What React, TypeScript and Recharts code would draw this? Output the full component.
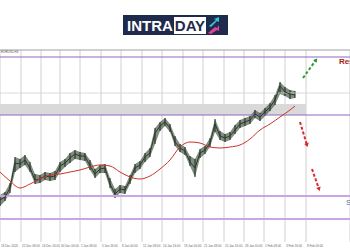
import {
  Area,
  Bar,
  CartesianGrid,
  ComposedChart,
  Line,
  ReferenceArea,
  ReferenceLine,
  XAxis,
  YAxis,
} from "recharts";

// H4 bars, sampled every 5 bars
const bars = [0, 5, 10, 15, 20, 25, 30, 35, 40, 45, 50, 55, 60, 65, 70, 75, 80, 85, 90, 95, 100, 105, 110, 115, 120, 125, 130, 135, 140, 145, 150, 155, 160, 165, 170, 175, 180, 185, 190, 195, 200, 205, 210, 215, 220, 225, 230, 235, 240, 245, 250, 255, 260, 265, 270, 275, 280, 285, 290, 295];
const close = [1.172, 1.1735, 1.178, 1.1905, 1.19, 1.192, 1.188, 1.182, 1.1825, 1.184, 1.1835, 1.184, 1.189, 1.1905, 1.193, 1.195, 1.194, 1.194, 1.189, 1.185, 1.1875, 1.188, 1.18, 1.175, 1.1775, 1.177, 1.182, 1.188, 1.1895, 1.1935, 1.1955, 1.2055, 1.209, 1.211, 1.208, 1.201, 1.198, 1.1965, 1.191, 1.188, 1.1955, 1.197, 1.2005, 1.21, 1.204, 1.203, 1.204, 1.207, 1.21, 1.211, 1.212, 1.215, 1.2135, 1.216, 1.2185, 1.222, 1.229, 1.226, 1.225, 1.2245];
const high = [1.1745, 1.176, 1.1805, 1.1935, 1.1925, 1.1945, 1.191, 1.185, 1.1845, 1.186, 1.1855, 1.1865, 1.191, 1.1925, 1.1955, 1.197, 1.196, 1.1955, 1.192, 1.1875, 1.1895, 1.19, 1.183, 1.1775, 1.1795, 1.179, 1.1845, 1.19, 1.1915, 1.1955, 1.198, 1.208, 1.211, 1.213, 1.21, 1.204, 1.2, 1.1985, 1.194, 1.1925, 1.1975, 1.199, 1.203, 1.2125, 1.2065, 1.205, 1.206, 1.2095, 1.212, 1.213, 1.214, 1.217, 1.2155, 1.218, 1.2205, 1.2245, 1.231, 1.2285, 1.227, 1.2265];
const low = [1.169, 1.1715, 1.1755, 1.186, 1.188, 1.1895, 1.186, 1.18, 1.1805, 1.182, 1.1815, 1.182, 1.186, 1.1885, 1.1905, 1.1925, 1.192, 1.1915, 1.187, 1.183, 1.1855, 1.1855, 1.178, 1.173, 1.1755, 1.175, 1.18, 1.1855, 1.1875, 1.191, 1.1935, 1.2, 1.2065, 1.209, 1.206, 1.199, 1.196, 1.1945, 1.189, 1.1835, 1.193, 1.195, 1.1985, 1.206, 1.202, 1.201, 1.202, 1.205, 1.208, 1.209, 1.21, 1.213, 1.2115, 1.214, 1.2165, 1.2195, 1.225, 1.224, 1.2225, 1.223];

// moving average
const maBars = [0, 10, 20, 30, 40, 50, 60, 70, 80, 90, 100, 110, 120, 130, 140, 150, 160, 170, 180, 190, 200, 210, 220, 230, 240, 250, 260, 270, 280, 290, 295];
const ma = [1.186, 1.1815, 1.178, 1.18, 1.1825, 1.1845, 1.185, 1.186, 1.187, 1.1885, 1.1895, 1.189, 1.186, 1.1835, 1.1825, 1.184, 1.1875, 1.192, 1.1985, 1.201, 1.2005, 1.1985, 1.198, 1.1985, 1.1995, 1.2025, 1.207, 1.21, 1.2135, 1.217, 1.219];

// levels
const topBorder = 1.247;
const resistance = [1.2435, 1.2145];
const support = [1.174, 1.1625];
const zone = [1.2145, 1.22];
const gridLevel = 1.2255;

// scenario arrows
const upArrow = [{ t: 303, v: 1.233 }, { t: 316, v: 1.242 }];
const downArrow1 = [{ t: 300, v: 1.211 }, { t: 307, v: 1.1995 }];
const downArrow2 = [{ t: 312, v: 1.1875 }, { t: 319, v: 1.1775 }];

const tickBars = [0, 21, 41, 60, 80, 101, 121, 142, 162, 183, 203, 224, 244, 264, 285, 306];
const tickLabels = ["18 Dec 2020", "22 Dec 08:00", "24 Dec 16:00", "30 Dec 00:00", "1 Jan 08:00", "5 Jan 16:00", "8 Jan 00:00", "12 Jan 08:00", "14 Jan 16:00", "19 Jan 00:00", "21 Jan 08:00", "25 Jan 16:00", "28 Jan 00:00", "1 Feb 08:00", "3 Feb 16:00", "8 Feb 00:00"];

const data = bars.map((t, i) => ({ t, close: close[i], range: [low[i], high[i]] }));
const maData = maBars.map((t, i) => ({ t, v: ma[i] }));

const arrowHead = (color: string) => (p: any) => {
  const pts = p.points || [];
  if (p.index !== pts.length - 1 || p.index < 1) return <g key={p.key} />;
  const prev = pts[p.index - 1];
  const a = Math.atan2(p.cy - prev.y, p.cx - prev.x);
  const s = 4.5;
  const tip = [p.cx + Math.cos(a) * 2, p.cy + Math.sin(a) * 2];
  const l = [tip[0] - s * Math.cos(a - 0.55), tip[1] - s * Math.sin(a - 0.55)];
  const r = [tip[0] - s * Math.cos(a + 0.55), tip[1] - s * Math.sin(a + 0.55)];
  return <polygon key={p.key} points={`${tip[0]},${tip[1]} ${l[0]},${l[1]} ${r[0]},${r[1]}`} fill={color} />;
};

const DateTick = (props: any) => {
  const i = tickBars.indexOf(props.payload.value);
  return (
    <text x={props.x + 1} y={props.y + 4.5} fontSize={3} fill="#666" fontFamily="Liberation Sans">
      {tickLabels[i]}
    </text>
  );
};

function Logo() {
  return (
    <div
      style={{
        position: "absolute",
        left: 123,
        top: 15,
        width: 105,
        height: 20,
        background: "#1f2b4d",
        display: "flex",
        alignItems: "center",
        fontFamily: "Liberation Sans",
        fontWeight: 700,
        fontSize: 15,
        lineHeight: "15px",
      }}
    >
      <span style={{ color: "#fff", marginLeft: 4 }}>INTRA</span>
      <span style={{ background: "#fff", color: "#1f2b4d", marginLeft: 1, padding: "1px 1px 0 1px", height: 16 }}>DAY</span>
      <svg width={14} height={17} style={{ marginLeft: 1 }}>
        <polygon points="2,9 9,3 7,2 12,0 12,5 10,4 4,10" fill="#35c3d6" />
        <polygon points="1,16 8,10 10,11 12,8 12,14 10,13 4,17" fill="#e0409a" />
      </svg>
    </div>
  );
}

export default function App() {
  return (
    <div style={{ position: "absolute", left: 0, top: 0, width: 350, height: 250, overflow: "hidden", background: "#fff" }}>
      <ComposedChart width={350} height={250} data={data} margin={{ top: 50, right: 0, bottom: 0, left: 0 }}>
        <CartesianGrid horizontal={false} stroke="#c4c4c4" strokeWidth={0.8} />
        <XAxis
          dataKey="t"
          type="number"
          domain={[0, 350]}
          allowDataOverflow
          ticks={tickBars}
          tick={<DateTick />}
          tickLine={false}
          tickSize={0}
          tickMargin={0}
          axisLine={false}
          height={8}
          interval={0}
        />
        <YAxis type="number" domain={[1.151, 1.247]} allowDataOverflow hide />
        <ReferenceArea x1={0} x2={306} y1={zone[0]} y2={zone[1]} fill="#d9d9d9" fillOpacity={1} stroke="none" />
        <ReferenceLine y={topBorder} stroke="#a0a0a0" strokeWidth={1} />
        <ReferenceLine y={gridLevel} stroke="#d2d2d2" strokeWidth={0.8} />
        {resistance.map((v) => (
          <ReferenceLine key={v} y={v} stroke="#8d6bc0" strokeWidth={1.2} />
        ))}
        {support.map((v) => (
          <ReferenceLine key={v} y={v} stroke="#c8a6e4" strokeWidth={2} />
        ))}
        <Area dataKey="range" type="linear" fill="#4c5c4a" fillOpacity={0.7} stroke="none" isAnimationActive={false} />
        <Bar dataKey="range" barSize={1} fill="#1f291f" isAnimationActive={false} />
        <Line dataKey="close" type="linear" stroke="#2a3a2a" strokeWidth={1} dot={false} isAnimationActive={false} />
        <Line data={maData} dataKey="v" type="monotone" stroke="#c8342c" strokeWidth={1} dot={false} isAnimationActive={false} />
        <Line data={upArrow} dataKey="v" stroke="#2f9a35" strokeWidth={2} strokeDasharray="3 2" dot={arrowHead("#2f9a35")} isAnimationActive={false} />
        <Line data={downArrow1} dataKey="v" stroke="#e0262b" strokeWidth={2} strokeDasharray="3 2" dot={arrowHead("#e0262b")} isAnimationActive={false} />
        <Line data={downArrow2} dataKey="v" stroke="#e0262b" strokeWidth={2} strokeDasharray="3 2" dot={arrowHead("#e0262b")} isAnimationActive={false} />
      </ComposedChart>
      <Logo />
      <div style={{ position: "absolute", left: 1, top: 50, fontSize: 3, color: "#555", fontFamily: "Liberation Sans" }}>EURUSD,H4</div>
      <div style={{ position: "absolute", left: 339, top: 57, fontSize: 8, fontWeight: 700, color: "#a51c1c", fontFamily: "Liberation Sans", whiteSpace: "nowrap" }}>
        Resistance
      </div>
      <div style={{ position: "absolute", left: 346, top: 198, fontSize: 8, color: "#5a6aa6", fontFamily: "Liberation Sans", whiteSpace: "nowrap" }}>
        Support
      </div>
    </div>
  );
}
